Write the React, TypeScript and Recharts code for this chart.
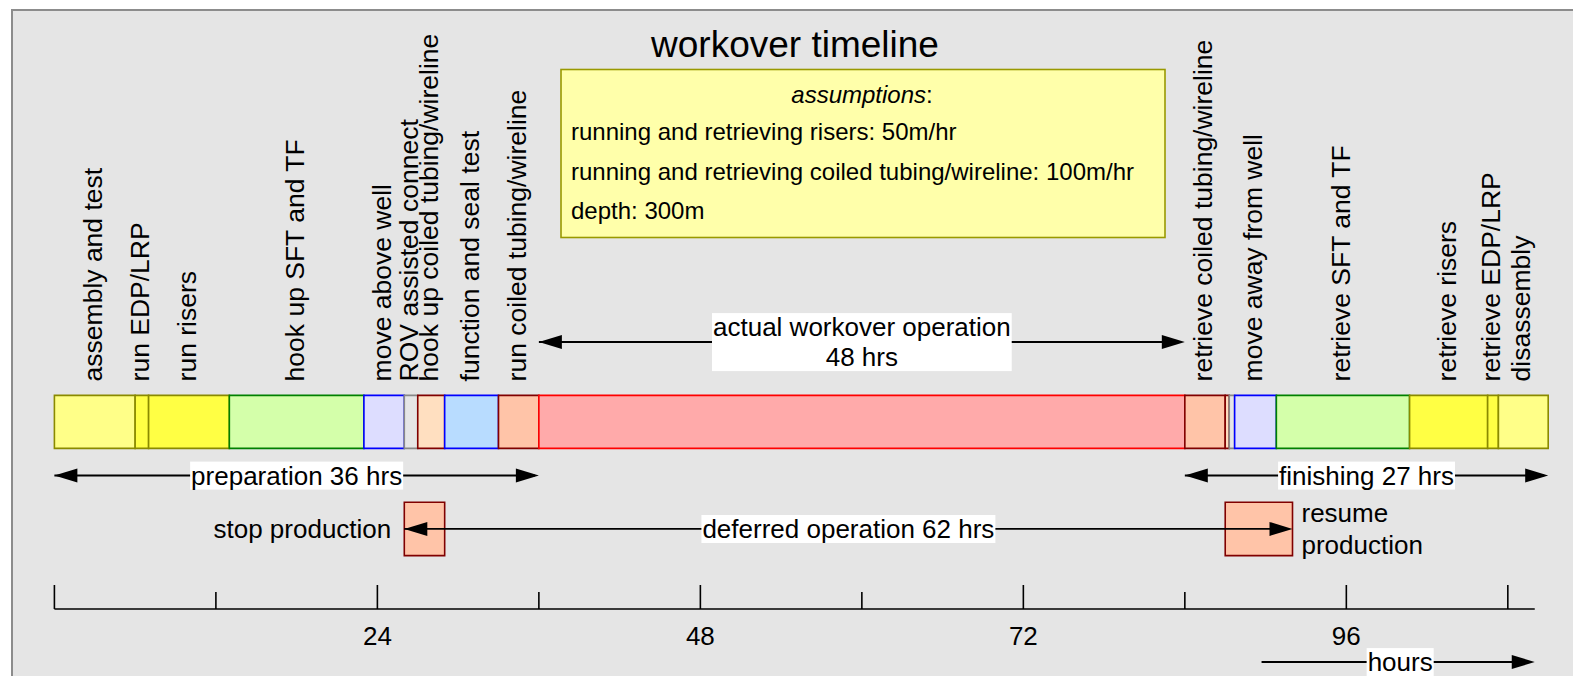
import React, { useLayoutEffect, useRef, useState } from 'react';
import { ComposedChart, Bar, XAxis, YAxis, ReferenceLine, ReferenceArea, LabelList } from 'recharts';

const FONT = '"Liberation Sans", Arial, Helvetica, sans-serif';

// ---------------- data ----------------
const segmentLabels = [
  'assembly and test',
  'run EDP/LRP',
  'run risers',
  'hook up SFT and TF',
  'move above well',
  'ROV assisted connect',
  'hook up coiled tubing/wireline',
  'function and seal test',
  'run coiled tubing/wireline',
  '',
  'retrieve coiled tubing/wireline',
  '',
  '',
  'move away from well',
  'retrieve SFT and TF',
  'retrieve risers',
  'retrieve EDP/LRP',
  'disassembly',
];
const segmentKinds = [
  'assembly', 'edp', 'risers', 'sft', 'move', 'rov', 'hookup', 'test', 'ct',
  'workover',
  'ct', 'hookup', 'rov', 'move', 'sft', 'risers', 'edp', 'assembly',
];
const segmentHours = [6, 1, 6, 10, 3, 1, 2, 4, 3, 48, 3, 0.3, 0.4, 3.1, 9.9, 5.8, 0.8, 3.7];

const phaseLabels = ['preparation', 'actual workover operation', 'finishing'];
const phaseStarts = [0, 36, 84];
const phaseEnds = [36, 84, 111];

const stopProductionSpan = [26, 29];
const resumeProductionSpan = [87, 92];
const deferredLabel = 'deferred operation 62 hrs';

const axisTicks = [0, 12, 24, 36, 48, 60, 72, 84, 96, 108];
const majorTicks = [0, 24, 48, 72, 96, 108];
const labeledTicks = [24, 48, 72, 96];
const axisEnd = 110;
const domainMax = 111;
const hoursArrowSpan = [89.7, 110];
const hoursLabelAt = 100;

const rowKeys = ['workover', 'timeline', 'phases', 'production', 'axis'];

const titleText = 'workover timeline';
const assumptionLines = [
  'running and retrieving risers: 50m/hr',
  'running and retrieving coiled tubing/wireline: 100m/hr',
  'depth: 300m',
];

// ---------------- styles ----------------
const kindStyle: Record<string, { fill: string; stroke: string }> = {
  assembly: { fill: '#ffff88', stroke: '#8a8a00' },
  edp: { fill: '#ffff44', stroke: '#8a8a00' },
  risers: { fill: '#ffff44', stroke: '#8a8a00' },
  sft: { fill: '#d4ffaa', stroke: '#008000' },
  move: { fill: '#ddddff', stroke: '#0000ff' },
  rov: { fill: '#e6e6e6', stroke: '#888888' },
  hookup: { fill: '#ffdfc0', stroke: '#800000' },
  test: { fill: '#b8dcff', stroke: '#0000ff' },
  ct: { fill: '#ffc4a8', stroke: '#800000' },
  workover: { fill: '#ffaaaa', stroke: '#ff0000' },
};

const chartData = rowKeys.map((row) => {
  const r: any = { row };
  if (row === 'timeline') segmentHours.forEach((h, i) => { r['s' + i] = h; });
  return r;
});

// ---------------- helpers ----------------
function Arrow({ x1, x2, y, both = true }: any) {
  const L = 23;
  const W = 7;
  const dir = x2 >= x1 ? 1 : -1;
  return (
    <g>
      <line x1={x1} y1={y} x2={x2 - dir * 4} y2={y} stroke="#000" strokeWidth={1.8} />
      <polygon points={`${x2},${y} ${x2 - dir * L},${y - W} ${x2 - dir * L},${y + W}`} fill="#000" />
      {both && <polygon points={`${x1},${y} ${x1 + dir * L},${y - W} ${x1 + dir * L},${y + W}`} fill="#000" />}
    </g>
  );
}

function BoxedLabel({ cx, cy, lines, fontSize = 26, lineGap = 30 }: any) {
  const ref = useRef<SVGGElement>(null);
  const [bb, setBb] = useState<any>(null);
  const key = lines.join('|') + '@' + cx + ',' + cy;
  useLayoutEffect(() => {
    if (ref.current) {
      const b = ref.current.getBBox();
      setBb((p: any) =>
        p && p.x === b.x && p.y === b.y && p.w === b.width && p.h === b.height
          ? p
          : { x: b.x, y: b.y, w: b.width, h: b.height }
      );
    }
  }, [key]);
  const n = lines.length;
  return (
    <g>
      {bb && <rect x={bb.x - 1} y={bb.y + 1} width={bb.w + 2} height={bb.h - 2} fill="#fff" />}
      <g ref={ref}>
        {lines.map((t: string, i: number) => (
          <text
            key={i}
            x={cx}
            y={cy + (i - (n - 1) / 2) * lineGap + fontSize * 0.35}
            textAnchor="middle"
            fontSize={fontSize}
            fontFamily={FONT}
            fill="#000"
          >
            {t}
          </text>
        ))}
      </g>
    </g>
  );
}

const arrowShape = (lines: string[]) => (props: any) => {
  const { x1, y1, x2 } = props;
  if (![x1, y1, x2].every((v) => Number.isFinite(+v))) return <g />;
  const cx = (+x1 + +x2) / 2;
  return (
    <g>
      <Arrow x1={+x1} x2={+x2} y={+y1} />
      <BoxedLabel cx={cx} cy={+y1} lines={lines} />
    </g>
  );
};

const axisLineShape = (props: any) => {
  const { x1, y1, x2, y2 } = props;
  return <line x1={x1} y1={y1} x2={x2} y2={y2} stroke="#000" strokeWidth={1.6} />;
};

const verticalLabel = (text: string) => (props: any) => {
  const vb = props.viewBox && Number.isFinite(+props.viewBox.width) ? props.viewBox : props;
  const x = +vb.x;
  const y = +vb.y;
  const w = +vb.width;
  if (!text || !Number.isFinite(x) || !Number.isFinite(y) || !Number.isFinite(w) || w <= 0) return null;
  const bx = x + w / 2 + 7;
  const by = y - 14;
  return (
    <text
      x={bx}
      y={by}
      transform={`rotate(-90 ${bx} ${by})`}
      fontSize={26.5}
      fontFamily={FONT}
      fill="#000"
    >
      {text}
    </text>
  );
};

const AxisTick = (props: any) => {
  const { x, y, payload } = props;
  const v = payload.value;
  const len = majorTicks.includes(v) ? 24 : 17;
  return (
    <g>
      <line x1={x} x2={x} y1={y} y2={y - len} stroke="#000" strokeWidth={1.6} />
      {labeledTicks.includes(v) && (
        <text x={x} y={y + 36} textAnchor="middle" fontSize={26} fontFamily={FONT} fill="#000">
          {v}
        </text>
      )}
    </g>
  );
};

const hoursLabel = (props: any) => {
  const vb = props.viewBox;
  if (!vb) return null;
  const toX = (h: number) => vb.x + (h / domainMax) * vb.width;
  const y = vb.y + 53;
  return (
    <g>
      <Arrow x1={toX(hoursArrowSpan[0])} x2={toX(hoursArrowSpan[1])} y={y} both={false} />
      <BoxedLabel cx={toX(hoursLabelAt)} cy={y} lines={['hours']} />
    </g>
  );
};

const stopLabel = (props: any) => {
  const vb = props.viewBox;
  if (!vb) return null;
  return (
    <text x={vb.x - 13} y={vb.y + vb.height / 2 + 9} textAnchor="end" fontSize={26} fontFamily={FONT} fill="#000">
      stop production
    </text>
  );
};

const resumeLabel = (props: any) => {
  const vb = props.viewBox;
  if (!vb) return null;
  const x = vb.x + vb.width + 9;
  const cy = vb.y + vb.height / 2;
  return (
    <g>
      <text x={x} y={cy - 16 + 9} fontSize={26} fontFamily={FONT} fill="#000">resume</text>
      <text x={x} y={cy + 16 + 9} fontSize={26} fontFamily={FONT} fill="#000">production</text>
    </g>
  );
};

export default function App() {
  return (
    <div style={{ position: 'absolute', left: 0, top: 0, width: 1573, height: 676, overflow: 'hidden', background: '#fff' }}>
      <div
        style={{
          position: 'absolute',
          left: 11,
          top: 9,
          width: 1700,
          height: 800,
          background: '#e5e5e5',
          borderLeft: '2px solid #8c8c8c',
          borderTop: '2px solid #8c8c8c',
        }}
      />
      <div style={{ position: 'absolute', left: 0, top: 0 }}>
        <ComposedChart
          width={1573}
          height={676}
          layout="vertical"
          data={chartData}
          margin={{ top: 342, right: 24.8, bottom: 7, left: 54.4 }}
          barCategoryGap={0}
        >
          <XAxis
            type="number"
            domain={[0, domainMax]}
            ticks={axisTicks}
            interval={0}
            axisLine={false}
            tickLine={false}
            tickSize={0}
            tickMargin={0}
            height={60}
            tick={AxisTick}
            label={hoursLabel}
          />
          <YAxis type="category" dataKey="row" hide />
          {segmentHours.map((_, i) => {
            const st = kindStyle[segmentKinds[i]];
            return (
              <Bar
                key={i}
                dataKey={'s' + i}
                stackId="timeline"
                fill={st.fill}
                stroke={st.stroke}
                strokeWidth={1.6}
                isAnimationActive={false}
              >
                <LabelList content={verticalLabel(segmentLabels[i])} />
              </Bar>
            );
          })}
          <ReferenceLine
            segment={[{ x: phaseStarts[1], y: 'workover' }, { x: phaseEnds[1], y: 'workover' }]}
            position="start"
            shape={arrowShape([phaseLabels[1], `${phaseEnds[1] - phaseStarts[1]} hrs`])}
          />
          <ReferenceLine
            segment={[{ x: phaseStarts[0], y: 'phases' }, { x: phaseEnds[0], y: 'phases' }]}
            shape={arrowShape([`${phaseLabels[0]} ${phaseEnds[0] - phaseStarts[0]} hrs`])}
          />
          <ReferenceLine
            segment={[{ x: phaseStarts[2], y: 'phases' }, { x: phaseEnds[2], y: 'phases' }]}
            shape={arrowShape([`${phaseLabels[2]} ${phaseEnds[2] - phaseStarts[2]} hrs`])}
          />
          <ReferenceArea
            x1={stopProductionSpan[0]}
            x2={stopProductionSpan[1]}
            y1="production"
            y2="production"
            fill="#ffc4a8"
            fillOpacity={1}
            stroke="#800000"
            strokeWidth={1.6}
            label={stopLabel}
          />
          <ReferenceArea
            x1={resumeProductionSpan[0]}
            x2={resumeProductionSpan[1]}
            y1="production"
            y2="production"
            fill="#ffc4a8"
            fillOpacity={1}
            stroke="#800000"
            strokeWidth={1.6}
            label={resumeLabel}
          />
          <ReferenceLine
            segment={[{ x: stopProductionSpan[0], y: 'production' }, { x: resumeProductionSpan[1], y: 'production' }]}
            shape={arrowShape([deferredLabel])}
          />
          <ReferenceLine
            segment={[{ x: 0, y: 'axis' }, { x: axisEnd, y: 'axis' }]}
            position="end"
            shape={axisLineShape}
          />
        </ComposedChart>
      </div>
      <svg width={1573} height={676} style={{ position: 'absolute', left: 0, top: 0, pointerEvents: 'none' }}>
        <text x={795} y={57} textAnchor="middle" fontSize={37} fontFamily={FONT} fill="#000">
          {titleText}
        </text>
        <rect x={561} y={69.5} width={604} height={168} fill="#ffffaa" stroke="#999900" strokeWidth={1.6} />
        <text x={862} y={103} textAnchor="middle" fontSize={24} fontFamily={FONT} fill="#000">
          <tspan fontStyle="italic">assumptions</tspan>:
        </text>
        {assumptionLines.map((t, i) => (
          <text key={i} x={571} y={140 + i * 39.5} fontSize={24} fontFamily={FONT} fill="#000">
            {t}
          </text>
        ))}
      </svg>
    </div>
  );
}
